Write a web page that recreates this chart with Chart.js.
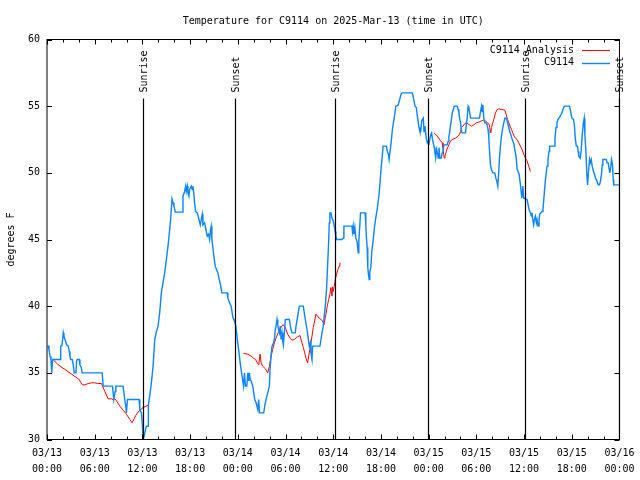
<!DOCTYPE html>
<html><head><meta charset="utf-8">
<script src="https://cdn.jsdelivr.net/npm/chart.js@4"></script>
<style>html,body{margin:0;padding:0;background:#fff}canvas{display:block}</style>
</head><body>
<canvas id="c" width="640" height="480" style="width:640px;height:480px"></canvas>
<script>
const TITLE = 'Temperature for C9114 on 2025-Mar-13 (time in UTC)';
const Y_LABEL = 'degrees F';
const SERIES_NAMES = ['C9114 Analysis', 'C9114'];
const X_TICK_LABELS = [
  ['03/13','00:00'],['03/13','06:00'],['03/13','12:00'],['03/13','18:00'],
  ['03/14','00:00'],['03/14','06:00'],['03/14','12:00'],['03/14','18:00'],
  ['03/15','00:00'],['03/15','06:00'],['03/15','12:00'],['03/15','18:00'],
  ['03/16','00:00']
];
// hours since 03/13 00:00 UTC
const SUN_HOURS = [12.03, 23.7, 36.17, 47.9, 60.12, 72.0];
const SUN_LABELS = ['Sunrise','Sunset','Sunrise','Sunset','Sunrise','Sunset'];

const BLUE_HOURS = [0.13,0.25,0.38,0.50,0.59,0.71,1.71,1.72,1.88,2.05,2.13,2.26,2.47,2.68,2.80,2.89,2.97,3.18,3.30,3.43,3.64,3.72,3.80,4.06,4.14,4.31,4.43,6.94,7.07,8.24,8.40,8.57,8.66,9.57,9.78,9.91,9.99,10.12,11.58,11.67,11.88,12.00,12.08,12.21,12.29,12.50,12.71,12.75,12.92,13.13,13.34,13.55,13.76,13.97,14.17,14.38,14.59,14.80,15.01,15.22,15.43,15.55,15.72,15.85,15.97,16.14,17.02,17.10,17.31,17.44,17.52,17.65,17.73,17.85,17.94,18.15,18.27,18.35,18.48,18.56,18.69,18.90,19.11,19.28,19.40,19.53,19.61,19.82,19.94,20.15,20.32,20.45,20.57,20.65,20.74,20.86,20.99,21.16,21.32,21.49,21.66,21.83,21.99,22.66,22.75,22.95,23.16,23.29,23.41,23.58,23.75,23.96,24.17,24.33,24.50,24.62,24.72,24.84,24.96,25.13,25.26,25.38,25.46,25.55,25.67,25.88,26.00,26.13,26.30,26.51,26.63,26.72,27.26,27.38,27.55,27.76,27.97,28.05,28.18,28.30,28.51,28.60,28.72,28.81,28.93,29.02,29.14,29.23,29.35,29.44,29.56,29.65,29.73,29.85,29.98,30.48,30.69,30.82,31.23,31.32,31.53,31.74,32.24,32.36,32.49,32.66,32.82,32.99,33.12,33.20,33.33,33.41,34.33,34.46,34.58,34.75,34.87,35.00,35.16,35.29,35.42,35.50,35.58,35.71,35.84,36.00,36.13,36.25,36.34,36.42,37.09,37.25,37.34,38.35,38.42,38.51,38.59,38.72,38.84,38.97,39.05,39.14,39.22,39.35,39.43,40.02,40.10,40.18,40.27,40.35,40.43,40.52,40.60,40.73,40.85,41.02,41.18,41.35,41.56,41.77,41.90,42.06,42.19,42.27,42.69,42.81,42.94,43.03,43.15,43.28,43.44,43.57,43.74,43.87,44.15,44.36,44.53,44.69,45.95,46.04,46.16,46.29,46.45,46.58,46.70,46.79,46.91,47.00,47.13,47.33,47.42,47.54,47.63,47.70,47.83,47.96,48.04,48.17,48.29,48.38,48.46,48.58,48.71,48.80,48.88,49.01,49.13,49.21,49.30,49.42,49.59,49.71,49.80,49.92,50.34,50.47,50.55,50.64,50.76,50.89,50.97,51.10,51.22,51.59,51.72,51.81,51.89,52.02,52.14,52.22,52.64,52.73,52.85,52.97,53.06,53.14,53.27,54.40,54.52,54.65,54.73,54.82,54.94,55.07,55.23,55.36,55.48,55.57,55.65,55.78,55.90,56.07,56.32,56.45,56.57,56.70,56.82,56.91,57.03,57.16,57.33,57.45,57.58,57.75,57.87,58.00,58.08,58.21,58.33,58.46,58.58,58.71,58.83,59.00,59.13,59.25,59.38,59.55,59.63,59.72,59.85,59.96,60.38,60.63,60.80,60.92,61.00,61.09,61.21,61.30,61.42,61.55,61.63,61.76,61.88,61.97,62.26,62.38,62.47,62.55,62.68,62.81,62.89,63.01,63.14,63.22,63.81,63.89,64.02,64.14,64.26,64.56,64.77,64.89,65.06,65.73,65.81,66.02,66.23,66.36,66.44,66.57,66.73,66.81,66.89,67.06,67.18,67.31,67.43,67.57,67.65,67.78,67.90,67.99,68.11,68.24,68.32,68.45,68.57,68.74,68.86,68.99,69.16,69.33,69.49,69.62,69.74,69.83,69.91,70.33,70.46,70.58,70.71,70.79,70.92,71.00,71.13,71.21,71.29,71.92];
const BLUE_TEMPS = [37.05,36.75,36.25,36.0,35.0,36.0,36.0,37.0,37.05,38.0,37.75,37.5,37.1,37.0,36.6,36.25,36.0,36.0,35.6,35.0,35.0,35.9,36.0,36.0,35.6,35.4,35.0,35.0,34.0,34.0,33.0,33.6,34.0,34.0,33.0,32.5,32.0,33.0,33.0,32.25,32.0,31.0,30.0,30.25,30.25,31.0,31.0,32.6,33.25,34.25,35.5,37.5,38.1,38.5,39.5,41.0,41.75,42.5,43.5,44.5,45.75,46.5,48.05,47.75,47.5,47.05,47.05,48.25,48.6,49.0,48.6,49.0,48.5,48.25,48.75,49.0,48.75,49.0,48.4,47.75,47.1,47.0,46.5,46.1,46.5,46.9,46.1,46.25,45.9,45.25,45.4,45.0,45.75,46.0,45.0,44.4,43.75,43.0,42.75,42.5,42.0,41.6,41.0,41.0,40.6,40.25,40.0,39.5,39.1,38.9,38.5,37.4,36.4,35.6,34.9,34.4,34.0,35.0,34.0,34.0,35.0,34.4,35.0,34.5,34.4,34.0,33.5,33.0,32.75,32.25,33.0,32.0,32.0,32.5,33.0,33.5,34.0,35.25,36.25,37.0,37.25,37.5,38.25,38.5,39.0,38.6,38.25,38.0,38.5,37.5,38.0,37.4,37.1,38.0,39.0,39.0,38.25,38.0,38.0,38.5,39.25,40.0,40.0,39.5,39.0,38.4,37.75,37.0,37.25,36.5,36.0,37.0,37.0,37.5,38.0,38.5,39.25,40.0,41.25,43.0,44.75,46.25,47.0,47.0,46.6,46.4,46.0,45.6,45.25,45.0,45.0,45.1,46.0,46.0,45.6,46.0,45.4,45.9,45.1,44.9,44.6,44.0,44.9,46.1,47.0,47.0,46.1,45.1,44.4,42.9,42.4,42.0,42.6,42.9,44.1,44.9,45.9,46.6,47.4,48.4,49.4,50.6,51.4,52.0,52.0,51.6,51.4,51.0,51.6,52.25,53.25,53.75,54.4,55.0,55.05,55.5,55.9,56.0,56.0,55.75,55.4,55.0,54.9,54.25,53.75,53.4,53.1,53.1,53.9,54.1,53.1,53.5,53.0,52.6,52.25,52.4,52.1,52.6,52.9,53.0,52.6,52.25,51.9,51.5,51.1,51.75,51.4,51.1,51.9,51.1,51.1,51.5,51.6,52.1,52.1,52.4,52.75,53.0,53.6,54.1,54.5,54.75,55.0,55.0,54.75,54.5,54.1,53.75,53.1,53.0,53.0,53.6,54.1,55.0,54.9,54.6,54.1,54.1,54.6,55.0,54.6,55.1,54.1,53.75,53.75,53.6,53.25,52.6,51.75,50.6,50.25,50.0,50.0,49.6,49.4,49.0,50.1,51.1,52.0,52.75,53.4,53.75,54.1,54.1,53.9,53.6,53.4,53.1,52.9,52.6,52.4,52.2,51.75,51.2,50.3,50.1,49.9,49.1,48.6,48.1,49.0,48.1,48.0,47.25,47.0,46.75,47.0,46.5,46.1,46.5,46.75,46.25,46.5,46.0,46.4,46.9,47.1,47.25,47.9,48.5,49.4,50.1,50.5,51.0,51.6,52.0,52.0,52.6,53.4,53.75,54.0,54.25,54.5,54.75,55.0,55.0,54.75,54.1,54.0,53.4,52.6,52.0,52.0,51.6,51.25,51.1,51.6,52.75,53.6,54.1,52.9,51.6,49.9,49.1,50.1,51.0,50.75,51.0,50.5,50.1,49.9,49.6,49.4,49.1,49.1,49.4,49.9,50.6,51.0,51.0,50.75,50.75,50.25,50.0,50.5,51.0,50.6,49.5,49.1,49.1];

// analysis series; null temperature marks a gap between runs
const RED_HOURS = [0.67,1.42,2.26,3.09,3.80,4.06,4.22,4.47,4.77,5.18,5.60,6.02,6.44,6.86,6.98,7.28,7.69,8.11,8.32,8.53,8.74,9.16,9.57,9.99,10.41,10.70,11.16,11.45,12.08,12.83,
  18.0,
  24.71,25.26,25.67,25.97,26.22,26.51,26.63,26.80,26.93,27.13,27.47,27.76,27.97,28.18,28.39,28.60,28.81,29.14,29.44,29.65,29.85,30.07,30.27,30.57,30.82,31.11,31.53,31.82,32.07,32.24,32.41,32.57,32.78,32.99,33.16,33.33,33.49,33.66,33.83,34.24,34.66,34.83,35.08,35.25,35.42,35.58,35.71,35.84,35.92,36.00,36.13,36.25,36.42,36.59,36.75,36.84,
  42.0,
  48.67,49.09,49.51,49.71,49.80,49.89,49.97,50.05,50.22,50.39,50.55,50.76,50.97,51.39,51.72,51.89,52.02,52.14,52.31,52.56,52.73,53.14,53.40,53.69,53.98,54.32,54.65,54.94,55.15,55.36,55.57,55.69,55.82,55.90,56.07,56.24,56.41,56.62,56.82,57.24,57.58,57.75,57.91,58.08,58.24,58.42,58.58,58.75,58.92,59.13,59.34,59.55,59.75,59.96,60.17,60.38,60.59,60.80];
const RED_TEMPS = [36.05,35.6,35.25,34.9,34.6,34.5,34.3,34.1,34.1,34.2,34.25,34.25,34.2,34.2,34.0,33.6,33.05,33.05,33.0,33.05,32.9,32.5,32.2,31.9,31.5,31.25,31.8,32.05,32.4,32.6,
  null,
  36.45,36.4,36.25,36.1,36.0,35.7,35.6,36.4,35.75,35.5,35.3,35.0,35.5,36.25,36.75,37.25,37.6,38.1,38.4,38.6,38.55,38.25,37.9,37.6,37.45,37.5,37.7,37.8,37.25,36.9,36.5,36.1,35.75,36.5,37.1,37.75,38.4,38.9,39.4,39.1,38.9,38.6,39.4,40.0,40.5,40.9,41.4,40.75,41.45,41.1,41.5,42.0,42.4,42.75,43.0,43.25,
  null,
  53.0,52.75,52.4,52.25,51.9,51.4,51.1,51.25,51.6,51.9,52.1,52.4,52.5,52.6,52.75,52.9,53.1,53.4,53.5,53.7,53.75,53.6,53.5,53.6,53.75,53.8,53.9,53.95,53.9,53.75,53.7,53.4,53.0,53.4,53.75,54.1,54.5,54.75,54.8,54.75,54.7,54.4,54.0,53.75,53.5,53.25,53.0,52.75,52.6,52.5,52.25,52.0,51.75,51.4,51.1,50.9,50.5,50.1];

const FONT_FAMILY = '"DejaVu Sans Mono", "Liberation Mono", monospace';
const FONT = '10px ' + FONT_FAMILY;
const RED = '#ff0000';
const BLUE = '#0a84ff';

const overlay = {
  id: 'overlay',
  afterDraw(chart) {
    const ctx = chart.ctx, a = chart.chartArea;
    const xs = chart.scales.x, ys = chart.scales.y;
    ctx.save();
    // sunrise / sunset markers
    ctx.strokeStyle = '#000'; ctx.lineWidth = 1.2;
    ctx.font = FONT; ctx.fillStyle = '#000';
    SUN_HOURS.forEach((h, i) => {
      const px = Math.round(xs.getPixelForValue(h)) + 0.5;
      ctx.beginPath(); ctx.moveTo(px, a.top + 59); ctx.lineTo(px, a.bottom); ctx.stroke();
      ctx.save();
      ctx.translate(px + 1, a.top + 53);
      ctx.rotate(-Math.PI / 2);
      ctx.textAlign = 'left'; ctx.textBaseline = 'middle';
      ctx.fillText(SUN_LABELS[i], 0, 0);
      ctx.restore();
    });
    // frame
    ctx.lineWidth = 1; ctx.strokeStyle = '#000';
    ctx.strokeRect(a.left, a.top, a.right - a.left, a.bottom - a.top);
    // tick marks (inward, mirrored)
    ctx.beginPath();
    for (let v = xs.min; v <= xs.max + 1e-9; v += 2) {
      const px = Math.round(xs.getPixelForValue(v)) + 0.5;
      const len = (v % 6 === 0) ? 5 : 3;
      ctx.moveTo(px, a.bottom); ctx.lineTo(px, a.bottom - len);
      ctx.moveTo(px, a.top); ctx.lineTo(px, a.top + len);
    }
    ys.ticks.forEach(t => {
      const py = Math.round(ys.getPixelForValue(t.value)) + 0.5;
      ctx.moveTo(a.left, py); ctx.lineTo(a.left + 5, py);
      ctx.moveTo(a.right, py); ctx.lineTo(a.right - 5, py);
    });
    ctx.stroke();
    // title
    ctx.textAlign = 'center'; ctx.textBaseline = 'middle';
    ctx.fillText(TITLE, (a.left + a.right) / 2, 21);
    // y label
    ctx.save();
    ctx.translate(11, (a.top + a.bottom) / 2);
    ctx.rotate(-Math.PI / 2);
    ctx.fillText(Y_LABEL, 0, 0);
    ctx.restore();
    // legend
    const colors = [RED, BLUE];
    SERIES_NAMES.forEach((name, i) => {
      const y = 50 + i * 12.7;
      ctx.textAlign = 'right'; ctx.textBaseline = 'middle'; ctx.fillStyle = '#000';
      ctx.fillText(name, 574, y);
      ctx.strokeStyle = colors[i]; ctx.lineWidth = i === 0 ? 1 : 1.4;
      ctx.beginPath(); ctx.moveTo(582, Math.round(y) + 0.5); ctx.lineTo(610, Math.round(y) + 0.5); ctx.stroke();
    });
    ctx.restore();
  }
};

new Chart(document.getElementById('c'), {
  type: 'line',
  data: {
    datasets: [
      {
        label: SERIES_NAMES[1],
        data: BLUE_HOURS.map((h, i) => ({x: h, y: BLUE_TEMPS[i]})),
        borderColor: BLUE, borderWidth: 1.4, pointRadius: 0, tension: 0, fill: false
      },
      {
        label: SERIES_NAMES[0],
        data: RED_HOURS.map((h, i) => ({x: h, y: RED_TEMPS[i]})),
        borderColor: RED, borderWidth: 1, pointRadius: 0, tension: 0, fill: false, spanGaps: false
      }
    ]
  },
  options: {
    responsive: false, animation: false, devicePixelRatio: 1,
    layout: {padding: {top: 39.5, right: 19, left: 0, bottom: 0}},
    plugins: {legend: {display: false}, title: {display: false}, tooltip: {enabled: false}},
    scales: {
      x: {
        type: 'linear', min: 0, max: 72,
        grid: {display: false, drawTicks: false}, border: {display: false},
        ticks: {
          stepSize: 6, autoSkip: false, maxRotation: 0, padding: 5.5, color: '#000',
          font: {family: FONT_FAMILY, size: 10, lineHeight: 1.6},
          callback: (v, i) => X_TICK_LABELS[i]
        },
        afterFit(s) { s.height = 40.5; }
      },
      y: {
        min: 30, max: 60,
        grid: {display: false, drawTicks: false}, border: {display: false},
        ticks: {stepSize: 5, padding: 7, color: '#000', font: {family: FONT_FAMILY, size: 10}},
        afterFit(s) { s.width = 47; }
      }
    }
  },
  plugins: [overlay]
});
</script>
</body></html>
